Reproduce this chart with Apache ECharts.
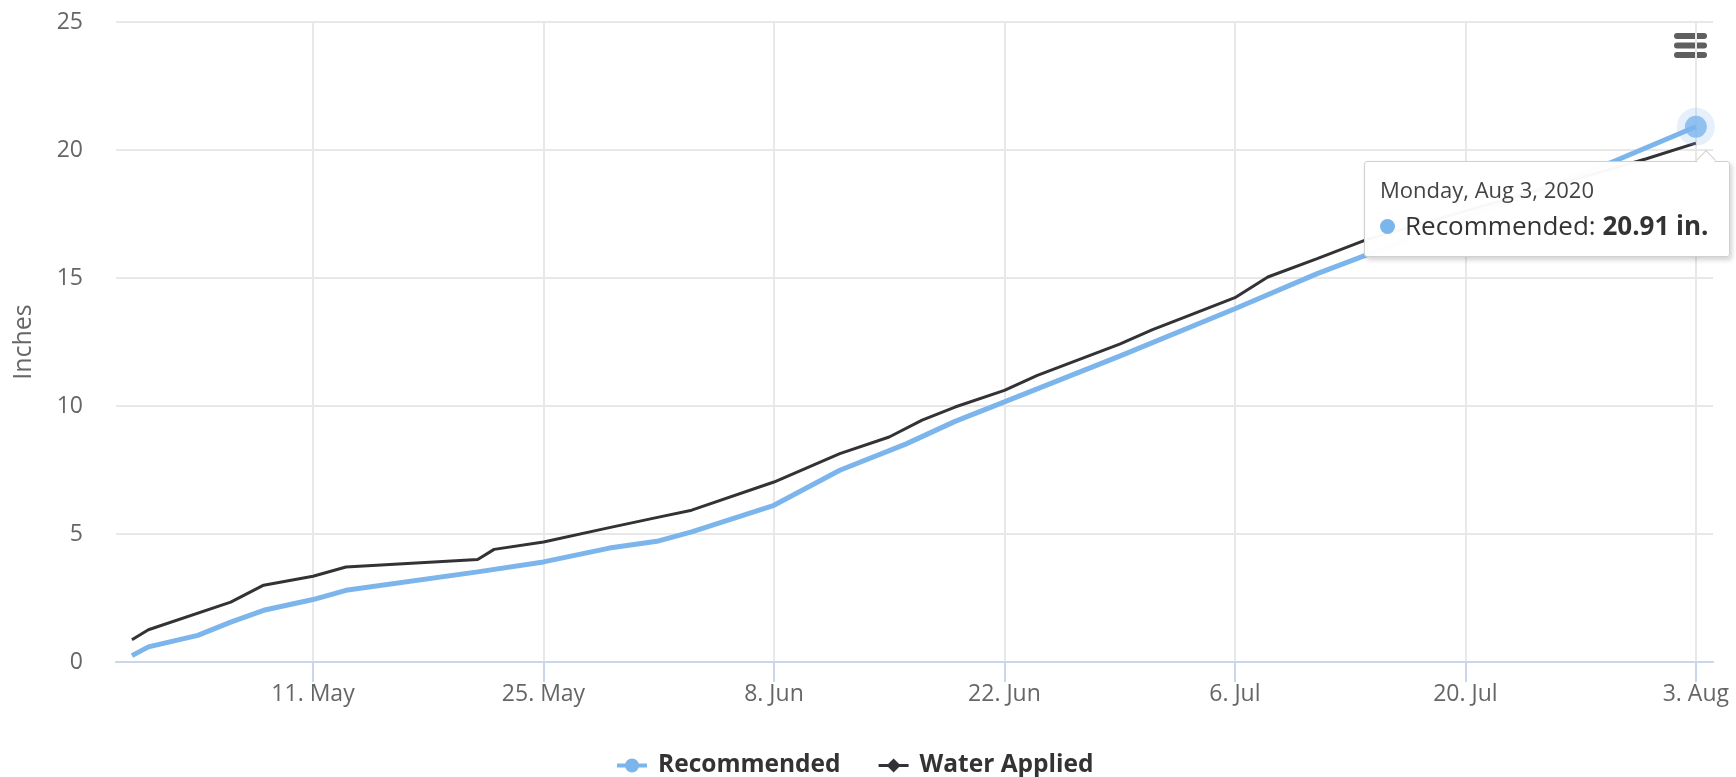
<!DOCTYPE html>
<html>
<head>
<meta charset="utf-8">
<title>Recommended vs Water Applied</title>
<script src="https://cdn.jsdelivr.net/npm/echarts@6/dist/echarts.min.js"></script>
<style>
  html, body { margin: 0; padding: 0; background: #ffffff; }
  #chart { width: 1736px; height: 777px; }
</style>
</head>
<body>
<div id="chart"></div>
<script>
// Cumulative irrigation, inches
const recDates = ['2020-04-30','2020-05-01','2020-05-04','2020-05-06','2020-05-08','2020-05-11','2020-05-13',
  '2020-05-21','2020-05-25','2020-05-29','2020-06-01','2020-06-03','2020-06-08','2020-06-12','2020-06-16',
  '2020-06-19','2020-06-22','2020-06-29','2020-07-06','2020-07-11','2020-07-29','2020-08-03'];
const recValues = [0.25,0.59,1.04,1.56,2.02,2.44,2.80,
  3.52,3.91,4.45,4.73,5.08,6.12,7.49,8.51,
  9.40,10.16,11.95,13.80,15.17,19.55,20.91];

const appDates = ['2020-04-30','2020-05-01','2020-05-06','2020-05-08','2020-05-11','2020-05-13','2020-05-21',
  '2020-05-22','2020-05-25','2020-05-29','2020-06-01','2020-06-03','2020-06-08','2020-06-12','2020-06-15',
  '2020-06-17','2020-06-19','2020-06-22','2020-06-24','2020-06-29','2020-07-01','2020-07-03','2020-07-06',
  '2020-07-08','2020-07-11','2020-07-14','2020-07-31','2020-08-03'];
const appValues = [0.87,1.26,2.34,3.00,3.35,3.71,4.00,
  4.40,4.69,5.25,5.66,5.93,7.03,8.14,8.79,
  9.45,9.96,10.61,11.20,12.42,12.98,13.48,14.23,
  15.04,15.76,16.50,19.66,20.27];

const tickDates = ['2020-05-11','2020-05-25','2020-06-08','2020-06-22','2020-07-06','2020-07-20','2020-08-03'];
const yTicks = [0, 5, 10, 15, 20, 25];

const MONTHS = ['Jan','Feb','Mar','Apr','May','Jun','Jul','Aug','Sep','Oct','Nov','Dec'];
const WEEKDAYS = ['Sunday','Monday','Tuesday','Wednesday','Thursday','Friday','Saturday'];
const FONT = "'Open Sans', 'Noto Sans', sans-serif";

function ts(s) {
  const p = s.split('-').map(Number);
  return Date.UTC(p[0], p[1] - 1, p[2]);
}
function pairs(dates, vals) {
  return dates.map((d, i) => [ts(d), vals[i]]);
}

const recData = pairs(recDates, recValues);
const appData = pairs(appDates, appValues);
const lastRec = recData[recData.length - 1];
const tickValues = tickDates.map(ts);

// legend icons: a line with the series marker on it
const iconCircle = 'path://M0,5 L30,5 L30,9 L0,9 Z M8,7 A7,7 0 1,1 22,7 A7,7 0 1,1 8,7 Z';
const iconDiamond = 'path://M0,5.5 L30,5.5 L30,8.5 L0,8.5 Z M15,0 L22,7 L15,14 L8,7 Z';

const chart = echarts.init(document.getElementById('chart'), null, { renderer: 'canvas' });

chart.setOption({
  animation: false,
  backgroundColor: '#ffffff',
  textStyle: { fontFamily: FONT },
  grid: { left: 116, right: 23, top: 22, bottom: 115, containLabel: false },
  xAxis: {
    type: 'value',
    min: Date.UTC(2020, 3, 29, 0, 46),
    max: Date.UTC(2020, 7, 4, 1, 0),
    axisLine: { show: true, onZero: false, lineStyle: { color: '#ccd6eb', width: 2 } },
    axisTick: { show: true, length: 20, lineStyle: { color: '#ccd6eb', width: 2 },
                customValues: tickValues },
    axisLabel: {
      customValues: tickValues,
      margin: 21,
      color: '#666666',
      fontSize: 23,
      fontFamily: FONT,
      formatter: function (v) {
        const d = new Date(v);
        return d.getUTCDate() + '. ' + MONTHS[d.getUTCMonth()];
      }
    },
    splitLine: { show: true, lineStyle: { color: '#e8e8e8', width: 2 } }
  },
  yAxis: {
    type: 'value',
    min: yTicks[0],
    max: yTicks[yTicks.length - 1],
    interval: 5,
    name: 'Inches',
    nameLocation: 'middle',
    nameGap: 80,
    nameTextStyle: { color: '#666666', fontSize: 25, fontFamily: FONT },
    axisLine: { show: false },
    axisTick: { show: false },
    axisLabel: { color: '#666666', fontSize: 23, margin: 33, fontFamily: FONT },
    splitLine: { show: true, lineStyle: { color: '#e8e8e8', width: 2 } }
  },
  legend: {
    left: 612,
    top: 748,
    itemWidth: 30,
    itemHeight: 14,
    itemGap: 38,
    textStyle: { color: '#333333', fontSize: 24.5, fontWeight: 'bold', fontFamily: FONT, padding: [0, 0, 0, 6] },
    data: [
      { name: 'Recommended', icon: iconCircle },
      { name: 'Water Applied', icon: iconDiamond }
    ]
  },
  tooltip: {
    trigger: 'item',
    triggerOn: 'none',
    alwaysShowContent: true,
    transitionDuration: 0,
    position: [1364, 161],
    backgroundColor: 'rgba(255,255,255,0.97)',
    borderColor: '#d0d0d0',
    borderWidth: 1,
    borderRadius: 3,
    padding: [10, 20, 12, 15],
    extraCssText: 'box-shadow: 2px 3px 5px rgba(0,0,0,0.18);',
    formatter: function (p) {
      const d = new Date(p.value[0]);
      const head = WEEKDAYS[d.getUTCDay()] + ', ' + MONTHS[d.getUTCMonth()] + ' ' + d.getUTCDate() + ', ' + d.getUTCFullYear();
      return '<div style="position:relative;font-family:' + FONT.replace(/'/g, '') + ';">' +
        '<div style="position:absolute;top:-19px;right:-4px;width:13px;height:13px;background:#fff;' +
        'border-left:1px solid #d0d0d0;border-top:1px solid #d0d0d0;transform:rotate(45deg);"></div>' +
        '<div style="font-size:22px;line-height:35px;color:#444;">' + head + '</div>' +
        '<div style="font-size:26px;line-height:37px;color:#333;white-space:nowrap;">' +
        '<span style="display:inline-block;width:15px;height:15px;border-radius:50%;background:#7cb5ec;' +
        'margin-right:10px;vertical-align:middle;position:relative;top:-2px;"></span>' +
        'Recommended: <b>' + p.value[1].toFixed(2) + ' in.</b></div></div>';
    }
  },
  series: [
    {
      name: 'Recommended',
      type: 'line',
      data: recData,
      showSymbol: false,
      symbol: 'circle',
      lineStyle: { color: '#7cb5ec', width: 5 },
      itemStyle: { color: '#7cb5ec' },
      emphasis: { disabled: true },
      z: 2
    },
    {
      name: 'Water Applied',
      type: 'line',
      data: appData,
      showSymbol: false,
      symbol: 'diamond',
      lineStyle: { color: '#333337', width: 3 },
      itemStyle: { color: '#333337' },
      emphasis: { disabled: true },
      z: 3
    },
    {
      // hovered point on the Recommended line
      name: 'Recommended point',
      type: 'scatter',
      data: [
        { value: lastRec, symbolSize: 38, itemStyle: { color: 'rgba(124,181,236,0.25)' } },
        { value: lastRec, symbolSize: 22, itemStyle: { color: '#7cb5ec' } }
      ],
      emphasis: { disabled: true },
      z: 4
    }
  ],
  graphic: [
    {
      // export menu button
      type: 'group',
      left: 1674,
      top: 33,
      children: [0, 9.5, 19].map(function (dy) {
        return { type: 'rect', shape: { x: 0, y: dy, width: 33, height: 6, r: 3 }, style: { fill: '#5f5f5f' } };
      })
    }
  ]
});

chart.dispatchAction({ type: 'showTip', seriesIndex: 2, dataIndex: 1 });
</script>
</body>
</html>
